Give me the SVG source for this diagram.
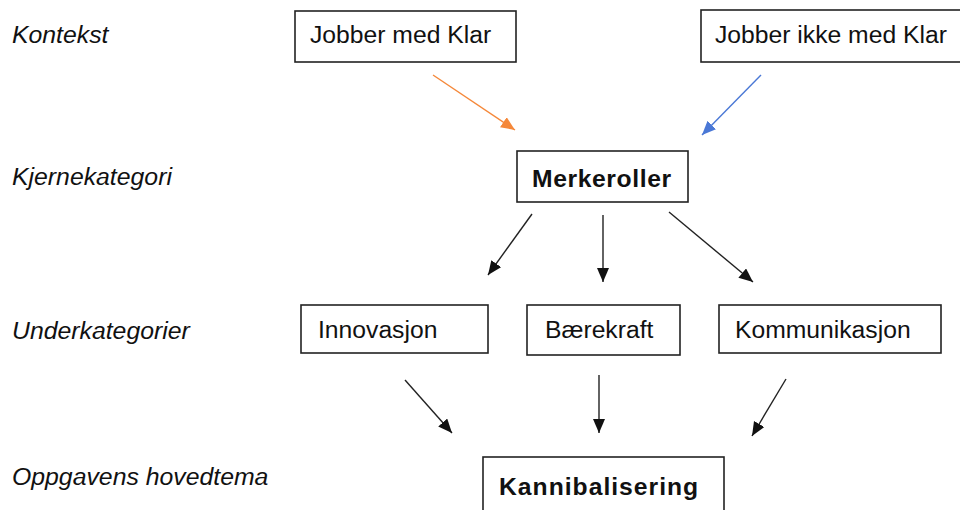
<svg xmlns="http://www.w3.org/2000/svg" width="960" height="510" viewBox="0 0 960 510">
<defs>
<style>
.lvl{font-family:"Liberation Sans",Arial,sans-serif;font-style:italic;font-size:24.8px;fill:#111}
.box{fill:#fff;stroke:#222;stroke-width:1.6}
.t{font-family:"Liberation Sans",Arial,sans-serif;font-size:24.7px;fill:#111}
.b{font-weight:bold}
.conn line{stroke-width:1.4;fill:none}
.k{stroke:#222}
.o{stroke:#F5883A}
.bl{stroke:#4A78D6}
</style>
<marker id="ak" markerUnits="userSpaceOnUse" markerWidth="16" markerHeight="14" refX="14" refY="6" orient="auto"><path d="M0,0 L14,6 L0,12 z" fill="#111"/></marker>
<marker id="ao" markerUnits="userSpaceOnUse" markerWidth="16" markerHeight="14" refX="14" refY="6" orient="auto"><path d="M0,0 L14,6 L0,12 z" fill="#F5883A"/></marker>
<marker id="ab" markerUnits="userSpaceOnUse" markerWidth="16" markerHeight="14" refX="14" refY="6" orient="auto"><path d="M0,0 L14,6 L0,12 z" fill="#4A78D6"/></marker>
</defs>
<rect width="960" height="510" fill="#fff"/>
<g id="levels">
<text class="lvl" x="12" y="43">Kontekst</text>
<text class="lvl" x="12" y="185">Kjernekategori</text>
<text class="lvl" x="12" y="339">Underkategorier</text>
<text class="lvl" x="12" y="485">Oppgavens hovedtema</text>
</g>
<g id="n-jobber-med">
<rect class="box" x="295" y="11" width="221" height="51"/>
<text class="t" x="310" y="43">Jobber med Klar</text>
</g>
<g id="n-jobber-ikke">
<rect class="box" x="701" y="10" width="262" height="52"/>
<text class="t" x="715" y="43">Jobber ikke med Klar</text>
</g>
<g id="n-merkeroller">
<rect class="box" x="517" y="151" width="171" height="51"/>
<text class="t b" x="532" y="187" font-size="27" letter-spacing="0.6">Merkeroller</text>
</g>
<g id="n-innovasjon">
<rect class="box" x="301" y="305" width="187" height="48"/>
<text class="t" x="318" y="338">Innovasjon</text>
</g>
<g id="n-baerekraft">
<rect class="box" x="527" y="305" width="153" height="50"/>
<text class="t" x="545" y="338">Bærekraft</text>
</g>
<g id="n-kommunikasjon">
<rect class="box" x="719" y="305" width="222" height="48"/>
<text class="t" x="735" y="338">Kommunikasjon</text>
</g>
<g id="n-kannibalisering">
<rect class="box" x="483" y="457" width="241" height="62"/>
<text class="t b" x="499" y="495" font-size="28" letter-spacing="1">Kannibalisering</text>
</g>
<g id="connectors" class="conn">
<line class="o" x1="433" y1="75" x2="515" y2="130" marker-end="url(#ao)"/>
<line class="bl" x1="761" y1="75" x2="702" y2="135" marker-end="url(#ab)"/>
<line class="k" x1="532" y1="214" x2="488" y2="275" marker-end="url(#ak)"/>
<line class="k" x1="603" y1="215" x2="603" y2="282" marker-end="url(#ak)"/>
<line class="k" x1="669" y1="212" x2="753" y2="282" marker-end="url(#ak)"/>
<line class="k" x1="405" y1="380" x2="452" y2="433" marker-end="url(#ak)"/>
<line class="k" x1="599" y1="375" x2="599" y2="433" marker-end="url(#ak)"/>
<line class="k" x1="786" y1="379" x2="752" y2="436" marker-end="url(#ak)"/>
</g>
</svg>
